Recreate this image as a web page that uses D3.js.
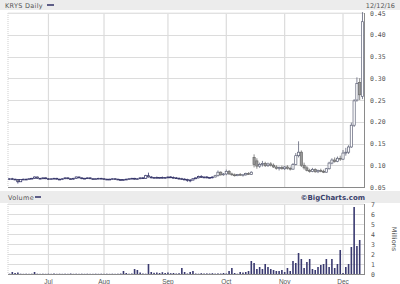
<!DOCTYPE html>
<html><head><meta charset="utf-8">
<script src="https://cdn.jsdelivr.net/npm/d3@7"></script>
<style>
html,body{margin:0;padding:0;background:#fff;}
svg{display:block;font-family:"DejaVu Sans",sans-serif;}
</style></head>
<body><svg id="c" width="400" height="284"></svg>
<script>
// ---- data ----
const title = "KRYS Daily";
const lastDateLabel = "12/12/16";
const firstDay = "2016-06-13", lastDay = "2016-12-12";
const holidays = ["2016-07-04", "2016-09-05", "2016-11-24"];
const monthLabels = ["Jul", "Aug", "Sep", "Oct", "Nov", "Dec"];
const priceTicks = [0.05, 0.10, 0.15, 0.20, 0.25, 0.30, 0.35, 0.40, 0.45];
const volTicks = [0, 1, 2, 3, 4, 5, 6, 7];

const open = [
.068,.069,.068,.067,.062,.067,.068,.067,.069,.070,.073,.070,.069,.071,
.069,.068,.069,.070,.068,.067,.069,.071,.069,.068,.070,.073,.071,.069,.070,.071,.069,.068,.069,.070,
.069,.068,.067,.068,.069,.068,.067,.066,.067,.068,.069,.070,.068,.069,.071,.070,.076,.073,.071,.072,.071,.072,.071,
.072,.073,.072,.071,.070,.069,.068,.067,.065,.066,.069,.071,.074,.072,.073,.071,.072,.073,.076,.084,.078,
.080,.086,.080,.078,.076,.079,.077,.078,.081,.079,.118,.110,.098,.102,.104,.099,.103,.100,.096,.093,.095,
.092,.096,.093,.091,.102,.122,.130,.100,.094,.088,.086,.090,.085,.088,.086,.084,.092,.105,.112,.109,.116,
.114,.128,.130,.142,.192,.250,.290,.258];
const high = [
.070,.071,.069,.068,.068,.069,.069,.070,.071,.074,.074,.071,.072,.072,
.070,.070,.071,.071,.069,.070,.072,.072,.070,.071,.074,.074,.072,.071,.072,.072,.070,.070,.071,.071,
.070,.069,.069,.070,.070,.069,.068,.068,.069,.070,.071,.071,.070,.072,.073,.078,.083,.075,.073,.074,.073,.074,.073,
.074,.075,.074,.073,.072,.071,.070,.069,.068,.070,.072,.076,.077,.074,.075,.073,.074,.078,.088,.086,.082,
.090,.089,.083,.081,.080,.082,.080,.083,.084,.086,.125,.116,.106,.110,.108,.106,.107,.104,.100,.097,.099,
.098,.100,.097,.105,.128,.155,.134,.106,.098,.092,.094,.093,.090,.092,.090,.094,.108,.116,.118,.120,.122,
.135,.140,.146,.198,.252,.302,.300,.452];
const low = [
.066,.067,.066,.058,.062,.066,.066,.067,.068,.069,.069,.068,.068,.068,
.067,.067,.068,.067,.066,.066,.068,.068,.067,.067,.069,.070,.068,.068,.069,.068,.067,.067,.068,.068,
.067,.066,.066,.067,.067,.066,.065,.065,.066,.067,.068,.067,.067,.068,.069,.069,.072,.070,.069,.070,.069,.070,.069,
.070,.071,.070,.069,.068,.067,.066,.062,.061,.065,.068,.070,.071,.070,.070,.069,.070,.072,.074,.076,.076,
.077,.078,.076,.074,.075,.076,.074,.076,.078,.078,.095,.092,.094,.097,.096,.096,.097,.094,.090,.088,.090,
.089,.090,.088,.090,.100,.118,.096,.090,.086,.083,.084,.083,.082,.084,.082,.083,.090,.102,.106,.107,.110,
.112,.122,.126,.140,.188,.246,.250,.252];
const close = [
.069,.068,.067,.062,.067,.068,.067,.069,.070,.073,.070,.069,.071,.069,
.068,.069,.070,.068,.067,.069,.071,.069,.068,.070,.073,.071,.069,.070,.071,.069,.068,.069,.070,.069,
.068,.067,.068,.069,.068,.067,.066,.067,.068,.069,.070,.068,.069,.071,.070,.076,.073,.071,.072,.071,.072,.071,.072,
.073,.072,.071,.070,.069,.068,.067,.065,.066,.069,.071,.074,.072,.073,.071,.072,.073,.076,.084,.078,.080,
.086,.080,.078,.076,.079,.077,.078,.081,.079,.084,.102,.098,.102,.104,.099,.103,.100,.096,.093,.095,.092,
.096,.093,.091,.102,.122,.130,.100,.094,.088,.086,.090,.085,.088,.086,.084,.092,.105,.112,.109,.116,.114,
.128,.130,.142,.192,.248,.288,.262,.430];
// volume, millions of shares
const volume = [
.03,.20,.10,.15,.03,.02,.03,.02,.03,.20,.03,.02,.03,.02,
.03,.02,.05,.02,.03,.02,.03,.02,.05,.02,.03,.02,.03,.02,.03,.02,.02,.03,.02,.03,
.02,.03,.02,.03,.02,.03,.05,.30,.10,.03,.05,.50,.40,.15,.05,.03,1.00,.20,.12,.15,.10,.18,.10,
.15,.08,.10,.05,.08,.60,.20,.05,.20,.30,.05,.03,.08,.05,.06,.05,.08,.04,.06,.05,.10,
.05,.30,.60,.10,.03,.20,.15,.20,.30,1.30,1.10,.50,.70,.50,1.00,.70,.50,.40,.30,.30,
.40,.20,.60,.30,1.30,1.10,2.10,1.50,.60,1.20,1.50,.50,.40,.70,.90,1.00,1.50,.70,1.50,.60,1.00,
2.40,.10,.70,1.00,2.70,6.70,2.80,3.40];

// ---- layout ----
const svg = d3.select("#c");
const L = 8, R = 364;
const pTop = 13, pBot = 187;
const vTop = 204, vBot = 274;
const navy = "#2f2f66", textCol = "#555", grid = "#dcdcdc", frame = "#8a8a8a";

const fmt = d3.timeFormat("%Y-%m-%d");
const parse = d3.timeParse("%Y-%m-%d");
const days = d3.timeDay.range(parse(firstDay), d3.timeDay.offset(parse(lastDay), 1))
  .filter(d => d.getDay() % 6 !== 0 && !holidays.includes(fmt(d)));
const idx = d3.range(days.length);

const x = d3.scaleBand().domain(idx).range([L, R]).paddingInner(0.2).paddingOuter(0.15);
const y = d3.scaleLinear().domain([0.05, 0.45]).range([pBot, pTop]);
const yv = d3.scaleLinear().domain([0, 7]).range([vBot, vTop]);
const cx = i => x(i) + x.bandwidth() / 2;

// month starts
const monthStart = monthLabels.map(m => idx.find(i => d3.timeFormat("%b")(days[i]) === m && (i === 0 || days[i-1].getMonth() !== days[i].getMonth())));

// header bars
svg.append("rect").attr("x", 0).attr("y", 0).attr("width", 400).attr("height", 10).attr("fill", "#ececec");
svg.append("rect").attr("x", 0).attr("y", 191).attr("width", 400).attr("height", 12).attr("fill", "#ececec");
svg.append("text").attr("x", 5).attr("y", 7.5).attr("font-size", 6.5).attr("fill", textCol).attr("letter-spacing", 0.3).text(title);
svg.append("line").attr("x1", 47).attr("x2", 54).attr("y1", 5).attr("y2", 5).attr("stroke", navy).attr("stroke-width", 1.5);
svg.append("text").attr("x", 395).attr("y", 7.5).attr("text-anchor", "end").attr("font-size", 6.5).attr("fill", textCol).text(lastDateLabel);
svg.append("text").attr("x", 8).attr("y", 199.5).attr("font-size", 6.5).attr("fill", textCol).attr("letter-spacing", 0.3).text("Volume");
svg.append("line").attr("x1", 35).attr("x2", 41).attr("y1", 197).attr("y2", 197).attr("stroke", navy).attr("stroke-width", 1.5);
svg.append("text").attr("x", 365).attr("y", 200).attr("text-anchor", "end").attr("font-size", 7).attr("font-weight", "bold").attr("fill", "#3a3f6a").text("\u00A9BigCharts.com");

function panelGrid(scale, ticks, top, bot) {
  const g = svg.append("g");
  g.append("g").attr("transform", `translate(${L},0)`)
    .call(d3.axisLeft(scale).tickValues(ticks).tickSize(-(R - L)).tickFormat(""))
    .call(a => a.select(".domain").remove())
    .call(a => a.selectAll("line").attr("stroke", grid).attr("stroke-width", 1).attr("shape-rendering", "crispEdges"));
  g.append("g").attr("transform", `translate(0,${bot})`)
    .call(d3.axisBottom(x).tickValues(monthStart).tickSize(-(bot - top)).tickFormat(""))
    .call(a => a.select(".domain").remove())
    .call(a => a.selectAll("line").attr("stroke", grid).attr("stroke-width", 1.2));
  // frame
  g.append("line").attr("x1", L).attr("x2", L).attr("y1", top).attr("y2", bot).attr("stroke", "#cfcfcf").attr("stroke-dasharray", "1,1");
  g.append("line").attr("x1", L).attr("x2", R).attr("y1", top).attr("y2", top).attr("stroke", "#e6e6e6");
  g.append("line").attr("x1", L).attr("x2", R + 1).attr("y1", bot + 0.5).attr("y2", bot + 0.5).attr("stroke", frame);
  g.append("line").attr("x1", R + 0.5).attr("x2", R + 0.5).attr("y1", top).attr("y2", bot + 1).attr("stroke", frame);
}
panelGrid(y, priceTicks, pTop, pBot);
panelGrid(yv, volTicks, vTop, vBot);

// price axis labels
svg.append("g").attr("transform", `translate(${R + 3},0)`)
  .call(d3.axisRight(y).tickValues(priceTicks).tickSize(0).tickFormat(d3.format(".2f")))
  .call(a => a.select(".domain").remove())
  .call(a => a.selectAll("text").attr("font-size", 6.5).attr("fill", textCol).attr("font-family", "DejaVu Sans Mono, monospace"));
// volume axis labels
svg.append("g").attr("transform", `translate(${R + 4},0)`)
  .call(d3.axisRight(yv).tickValues(volTicks).tickSize(0).tickFormat(d3.format("d")))
  .call(a => a.select(".domain").remove())
  .call(a => a.selectAll("text").attr("font-size", 6.5).attr("fill", textCol).attr("font-family", "DejaVu Sans Mono, monospace"));
svg.append("text").attr("transform", `translate(392,${(vTop + vBot) / 2}) rotate(90)`).attr("text-anchor", "middle")
  .attr("font-size", 6.5).attr("fill", textCol).text("Millions");
// month labels
svg.append("g").attr("transform", `translate(0,${vBot + 2})`)
  .call(d3.axisBottom(x).tickValues(monthStart).tickSize(0).tickFormat((d, i) => monthLabels[i]))
  .call(a => a.select(".domain").remove())
  .call(a => a.selectAll("text").attr("font-size", 6.5).attr("fill", textCol));

// candles
const cg = svg.append("g");
idx.forEach(i => {
  const up = close[i] >= open[i];
  const col = i < 74 ? navy : (up ? "#5f6378" : "#6a6a6a");
  cg.append("line").attr("x1", cx(i)).attr("x2", cx(i)).attr("y1", y(high[i])).attr("y2", y(low[i]))
    .attr("stroke", col).attr("stroke-width", 0.8);
  const top = y(Math.max(open[i], close[i])), bot = y(Math.min(open[i], close[i]));
  cg.append("rect").attr("x", x(i)).attr("width", x.bandwidth()).attr("y", top).attr("height", Math.max(0.8, bot - top))
    .attr("fill", up ? "#fff" : "#999").attr("stroke", col).attr("stroke-width", 0.7);
});

// volume bars
svg.append("g").selectAll("rect").data(idx).join("rect")
  .attr("x", i => cx(i) - 0.8).attr("width", 1.6)
  .attr("y", i => yv(volume[i])).attr("height", i => vBot - yv(volume[i]))
  .attr("fill", "#3a3a70");
</script></body></html>
